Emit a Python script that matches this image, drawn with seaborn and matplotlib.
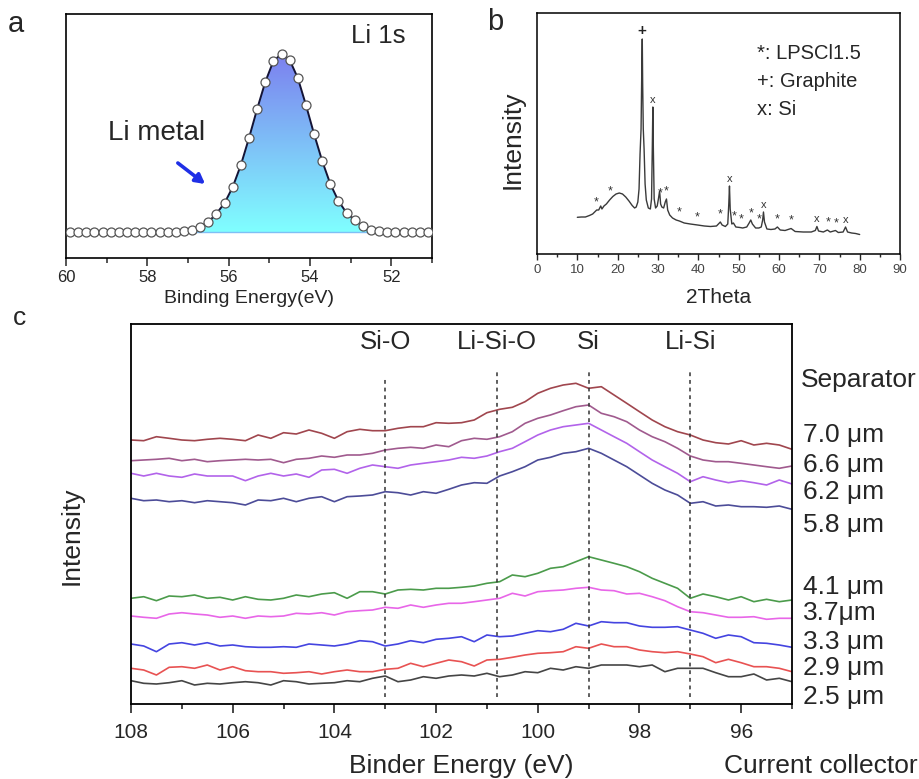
import numpy as np
import pandas as pd
import matplotlib
matplotlib.use("Agg")
import matplotlib.pyplot as plt
from matplotlib.colors import LinearSegmentedColormap
from matplotlib.ticker import MultipleLocator
from matplotlib.transforms import blended_transform_factory
import seaborn as sns

# ---------------- data ----------------
# (a) Li 1s XPS spectrum
li1s_energy = [59.9, 59.7, 59.5, 59.3, 59.1, 58.9, 58.7, 58.5, 58.3, 58.1,
               57.9, 57.7, 57.5, 57.3, 57.1, 56.9, 56.7, 56.5, 56.3, 56.1,
               55.9, 55.7, 55.5, 55.3, 55.1, 54.9, 54.7, 54.5, 54.3, 54.1,
               53.9, 53.7, 53.5, 53.3, 53.1, 52.9, 52.7, 52.5, 52.3, 52.1,
               51.9, 51.7, 51.5, 51.3, 51.1]
li1s_counts = [0, 0, 0, 0.5, 0, 0, 0, 0, 0, 0.5,
               0, 0, 0, 0.3, 1.2, 2.4, 5, 10, 18.4, 29,
               45, 67, 94, 123, 150, 171, 178, 172, 154, 127,
               98, 71, 48, 31, 19, 12, 6, 2.4, 0.8, 0.3,
               0, 0, 0, 0, 0]

# (b) XRD pattern
two_theta = [10.0, 11.0, 12.0, 13.0, 13.8, 14.3, 14.8, 15.3, 15.8, 16.1,
             16.6, 17.2, 18.0, 18.8, 19.6, 20.4, 21.2, 22.0, 22.8, 23.6,
             24.2, 24.6, 25.0, 25.3, 25.55, 25.8, 26.0, 26.1, 26.2, 26.35,
             26.55, 26.8, 27.1, 27.6, 28.1, 28.4, 28.6, 28.72, 28.85, 29.05,
             29.4, 29.8, 30.1, 30.4, 30.65, 30.95, 31.4, 31.8, 32.1, 32.4,
             32.9, 33.6, 34.5, 35.3, 36.5, 38.0, 39.8, 41.5, 43.0, 44.5,
             45.1, 45.45, 45.9, 46.7, 47.3, 47.55, 47.72, 47.9, 48.3, 48.7,
             49.3, 50.3, 51.0, 52.0, 52.6, 53.0, 53.4, 54.2, 55.0, 55.6,
             55.95, 56.15, 56.4, 57.0, 58.0, 59.0, 59.6, 60.3, 61.5, 63.0,
             64.0, 66.0, 68.0, 69.0, 69.4, 69.8, 71.0, 72.0, 72.7, 74.0,
             74.7, 75.9, 76.5, 77.0, 78.0, 79.0, 80.0]
xrd_counts = [36.7, 37, 37, 38.5, 40, 42, 44, 44, 48, 45,
              48, 50, 54, 57.5, 60, 61, 60, 57, 53, 48.5,
              46, 47, 52, 65, 100, 125, 190, 215, 170, 125,
              105, 70, 54, 46, 45, 55, 110, 147, 105, 55,
              46, 48, 55, 63, 50, 47, 46, 52, 55, 44,
              39, 36, 34, 33, 31, 30, 29, 28, 27.5, 28,
              30.5, 32, 29, 27.5, 30, 50, 68, 45, 30, 31,
              27, 26.5, 26, 27, 31, 34, 30, 26, 26, 27,
              34, 42, 32, 25, 24.5, 25, 27, 24, 23.5, 25.5,
              22.5, 22, 22, 23.5, 27.5, 23, 22, 24, 22, 23.5,
              21.5, 22, 27, 22, 21, 20.5, 19.5]
lpscl_peaks = [14.7, 18.2, 30.6, 32.1, 35.2, 39.8, 45.4, 48.9, 50.7, 53.1,
               55.2, 59.6, 62.9, 72.1, 74.2]
graphite_peaks = [26.1]
si_peaks = [28.72, 47.72, 56.15, 69.4, 76.5]

# (c) Si 2p depth profile, stacked spectra
si2p_energy = np.round(np.arange(108.0, 94.99, -0.25), 2)
depth_labels = ["7.0 μm", "6.6 μm", "6.2 μm", "5.8 μm",
                "4.1 μm", "3.7μm", "3.3 μm", "2.9 μm", "2.5 μm"]
spec_7_0 = [264, 263.3, 267.3, 265.7, 264, 263.3, 264.7, 265.7, 264.7, 263.3,
            269, 265.7, 271.3, 270, 274, 270.7, 265.7, 272.3, 274.7, 273.3,
            273.3, 275.7, 277.3, 277.3, 281.3, 280.7, 281.3, 284, 291.3, 294.7,
            296.7, 302.3, 310.7, 315.7, 319, 320.7, 315.7, 317.3, 309, 300.7,
            292.3, 284, 277.3, 272.3, 269, 264, 261.3, 260, 263.3, 259,
            260.7, 259, 254.7]
spec_6_6 = [243.3, 244, 244.7, 245.7, 243.3, 244.7, 242.3, 243.3, 244, 244.7,
            244, 244.7, 241.3, 244.7, 245.7, 248, 246.7, 249, 249, 250.7,
            254, 255.7, 256.7, 255.7, 259, 257.3, 263.3, 265.7, 264.7, 267.3,
            272.3, 280.7, 285.7, 289, 293.3, 297.3, 299, 290.7, 287.3, 282.3,
            274, 267.3, 262.3, 255.7, 248, 244, 242.3, 242.3, 240.7, 239,
            237.3, 235.7, 238]
spec_6_2 = [230.7, 228, 230.7, 228, 226.7, 230, 228, 228, 228, 223.3,
            228, 230.7, 228, 230, 226.7, 234, 234.7, 230.7, 235.7, 239,
            237.3, 235.7, 239, 240.7, 242.3, 244, 246.7, 245.7, 248, 252.3,
            255.7, 262.3, 269, 274, 277.3, 279, 280.7, 274, 267.3, 260.7,
            252.3, 244, 237.3, 230.7, 222.3, 227.3, 224, 221.3, 223.3, 221.3,
            219, 224, 220]
spec_5_8 = [205.7, 203.3, 204, 202.3, 203.3, 201.3, 203.3, 202.3, 201.3, 199,
            204, 203.3, 205.7, 202.3, 205.7, 207.3, 202.3, 207.3, 208, 209,
            212.3, 211.3, 209, 212.3, 210.7, 214.7, 219, 221.3, 220.7, 228,
            232.3, 237.3, 244, 246.7, 250.7, 252.3, 255.7, 250.7, 244, 237.3,
            229, 220.7, 214, 209, 200.7, 202.3, 198, 199, 197.3, 197.3,
            196.7, 198, 194.7]
spec_4_1 = [105.7, 107.3, 103.3, 108, 107.3, 109, 105.7, 106.7, 104, 107.3,
            104.7, 104, 105.7, 109, 107.3, 110, 111.3, 105.7, 112.3, 112.3,
            110, 114, 114.7, 114, 115.7, 115.7, 116.7, 118, 120.7, 122.3,
            129, 127.3, 130.7, 135.7, 137.3, 142.3, 147.3, 144, 140.7, 137.3,
            132.3, 125.7, 120.7, 115.7, 105.7, 110, 107.3, 104, 107.3, 102.3,
            104.7, 102.3, 104]
spec_3_7 = [88, 86.7, 85.7, 90, 91.3, 90, 89, 86.7, 88, 85.7,
            88, 87.3, 88, 90.7, 90, 91.3, 89, 92.3, 93.3, 94,
            96.7, 95.7, 99, 96.7, 99, 100.7, 100.7, 102.3, 104, 105.7,
            110.7, 108, 112.3, 113.3, 114, 115.7, 116.7, 114, 113.3, 110,
            110.7, 107.3, 103.3, 97.3, 92.3, 91.3, 89, 86.7, 86.7, 87.3,
            84.7, 85.7, 85.7]
spec_3_3 = [60, 58, 52.3, 60, 61.3, 59, 61.3, 58, 59, 57.3,
            56.7, 56.7, 57.3, 56.7, 60, 59, 58, 60, 63.3, 62.3,
            58, 60, 63.3, 61.3, 64.7, 65.7, 67.3, 62.3, 69, 67.3,
            68, 70.7, 73.3, 72.3, 74.7, 80.7, 78, 82.3, 81.3, 81.3,
            78, 76.7, 76.7, 77.3, 74, 70.7, 65.7, 69, 67.3, 61.3,
            60.7, 59, 56.7]
spec_2_9 = [35.7, 34, 29, 36.7, 37.3, 35.7, 39, 34, 37.3, 33.3,
            32.3, 32.3, 30.7, 31.3, 32.3, 30, 32.3, 34, 32.3, 32.3,
            34.7, 35.7, 40.7, 37.3, 40.7, 44, 42.3, 38, 44, 44.7,
            46.7, 49, 50.7, 51.3, 52.3, 57.3, 55.7, 60, 57.3, 57.3,
            54, 52.3, 51.3, 52.3, 50, 47.3, 41.3, 44.7, 41.3, 37.3,
            37.3, 35.7, 32.3]
spec_2_5 = [23.3, 20.7, 20, 21.3, 23.3, 19, 20.7, 20, 21.3, 22.3,
            21.3, 19, 23.3, 22.3, 20, 20.7, 21.3, 23.3, 22.3, 25.7,
            28, 22.3, 24, 27.3, 25.7, 28, 29, 28, 30.7, 27.3,
            29, 32.3, 31.3, 35.7, 34, 37.3, 35.7, 39, 39, 39,
            37.3, 39, 32.3, 35.7, 35.7, 35.7, 31.3, 27.3, 27.3, 30,
            24, 25.7, 22.3]
spectra = [spec_7_0, spec_6_6, spec_6_2, spec_5_8, spec_4_1,
           spec_3_7, spec_3_3, spec_2_9, spec_2_5]
depth_colors = ["#a0464e", "#a05a8e", "#b263ea", "#4c4c98", "#4b9b4b",
                "#e866e8", "#4444e0", "#e85252", "#454545"]
peak_names = ["Si-O", "Li-Si-O", "Si", "Li-Si"]
peak_energy = [103.0, 100.8, 99.0, 97.0]

# ---------------- style ----------------
sns.set_style("ticks")
plt.rcParams["font.family"] = ["Liberation Sans", "DejaVu Sans"]
plt.rcParams["axes.edgecolor"] = "black"

W, H = 920, 779
fig = plt.figure(figsize=(W / 100, H / 100), dpi=100)


def px_axes(left, top, right, bottom):
    return fig.add_axes([left / W, 1 - bottom / H, (right - left) / W, (bottom - top) / H])


ax_a = px_axes(66, 14, 432, 258)
ax_b = px_axes(537, 13, 900, 254)
ax_c = px_axes(131, 324, 792, 704)

# ---------------- panel a ----------------
df_a = pd.DataFrame({"energy": li1s_energy, "counts": li1s_counts})
e_a = np.array(li1s_energy)
c_a = np.array(li1s_counts)
peak_mask = c_a >= 2
fill = ax_a.fill_between(e_a[peak_mask], 0, c_a[peak_mask], facecolor="none", edgecolor="none")
grad_cmap = LinearSegmentedColormap.from_list("li1s", ["#80ffff", "#7c80ef"])
grad = np.linspace(0, 1, 256).reshape(-1, 1)
im = ax_a.imshow(grad, extent=(e_a[peak_mask].max(), e_a[peak_mask].min(), 0, c_a.max()),
                 origin="lower", cmap=grad_cmap, aspect="auto", zorder=1, interpolation="bilinear")
im.set_clip_path(fill.get_paths()[0], transform=ax_a.transData)
ax_a.plot(e_a[peak_mask][[0, -1]], [0, 0], color="#7fbff5", lw=1.0, zorder=1.5)
sns.lineplot(data=df_a, x="energy", y="counts", color="#141436", lw=1.4, ax=ax_a, zorder=2)
sns.scatterplot(data=df_a, x="energy", y="counts", s=42, color="white", edgecolor="#555555",
                linewidth=0.9, ax=ax_a, zorder=3)
ax_a.set_xlim(60, 51)
ax_a.set_ylim(-26, 218)
ax_a.set_yticks([])
ax_a.set_ylabel("")
ax_a.xaxis.set_major_locator(MultipleLocator(2))
ax_a.xaxis.set_minor_locator(MultipleLocator(1))
ax_a.tick_params(axis="x", which="major", length=6, width=1.1, labelsize=12, pad=3)
ax_a.tick_params(axis="x", which="minor", length=3.5, width=1.1)
ax_a.set_xlabel("Binding Energy(eV)", fontsize=14, labelpad=3)
for s in ax_a.spines.values():
    s.set_linewidth(1.2)
ax_a.annotate("", xy=(56.58, 48), xytext=(57.25, 69),
              arrowprops=dict(arrowstyle="-|>,head_length=0.55,head_width=0.3",
                              color="#1f2fe6", lw=2.6, shrinkA=0, shrinkB=0))
ax_a.text(57.77, 99, "Li metal", fontsize=20, ha="center", va="center")
ax_a.text(52.33, 196, "Li 1s", fontsize=18.5, ha="center", va="center")

# ---------------- panel b ----------------
df_b = pd.DataFrame({"two_theta": two_theta, "counts": xrd_counts})
sns.lineplot(data=df_b, x="two_theta", y="counts", color="#3a3a3a", lw=1.0, ax=ax_b)
ax_b.set_xlim(0, 90)
ax_b.set_ylim(0, 241)
ax_b.set_yticks([])
ax_b.set_ylabel("")
ax_b.xaxis.set_major_locator(MultipleLocator(10))
ax_b.xaxis.set_minor_locator(MultipleLocator(5))
ax_b.tick_params(axis="x", which="major", length=4.5, width=1.0, labelsize=9.5,
                 labelcolor="#444444", pad=3)
ax_b.tick_params(axis="x", which="minor", length=2.5, width=1.0)
ax_b.set_xlabel("2Theta", fontsize=15, labelpad=8)
for s in ax_b.spines.values():
    s.set_linewidth(1.1)
for pos in lpscl_peaks:
    ax_b.text(pos, np.interp(pos, two_theta, xrd_counts) + 2, "*", fontsize=9,
              ha="center", va="bottom", color="#333333")
for pos in graphite_peaks:
    ax_b.text(pos, np.interp(pos, two_theta, xrd_counts) + 1, "+", fontsize=11,
              ha="center", va="bottom", color="#222222", fontweight="bold")
for pos in si_peaks:
    ax_b.text(pos, np.interp(pos, two_theta, xrd_counts) + 2, "x", fontsize=8,
              ha="center", va="bottom", color="#333333")
for i, txt in enumerate(["*: LPSCl1.5", "+: Graphite", "x: Si"]):
    ax_b.text(0.605, 0.834 - 0.118 * i, txt, transform=ax_b.transAxes,
              fontsize=14.5, ha="left", va="center")

# ---------------- panel c ----------------
rows = []
for lab, vals in zip(depth_labels, spectra):
    for e, v in zip(si2p_energy, vals):
        rows.append((e, v, lab))
df_c = pd.DataFrame(rows, columns=["energy", "intensity", "depth"])
sns.lineplot(data=df_c, x="energy", y="intensity", hue="depth", hue_order=depth_labels,
             palette=dict(zip(depth_labels, depth_colors)), lw=1.2, legend=False,
             ax=ax_c, estimator=None, sort=False)
ax_c.set_xlim(108, 95)
ax_c.set_ylim(0, 380)
ax_c.set_yticks([])
ax_c.set_ylabel("")
ax_c.set_xlabel("")
ax_c.xaxis.set_major_locator(MultipleLocator(2))
ax_c.xaxis.set_minor_locator(MultipleLocator(1))
ax_c.tick_params(axis="x", which="major", length=6.5, width=1.2, labelsize=15, pad=7)
ax_c.tick_params(axis="x", which="minor", length=3.6, width=1.2)
for s in ax_c.spines.values():
    s.set_linewidth(1.3)

line_tops = [0.858, 0.874, 0.882, 0.876]
for name, e, top in zip(peak_names, peak_energy, line_tops):
    ax_c.axvline(e, ymin=0.018, ymax=top, color="#333333", lw=1.1, ls=(0, (2.5, 2.5)))
    ax_c.text(e, 362, name, fontsize=18.5, ha="center", va="center")

label_y = [269, 239, 212, 179, 117, 91, 62, 36, 7]
tr = blended_transform_factory(ax_c.transAxes, ax_c.transData)
ax_c.text(1.0136, 324, "Separator", transform=tr, fontsize=19, ha="left", va="center")
for lab, y in zip(depth_labels, label_y):
    ax_c.text(1.016, y, lab, transform=tr, fontsize=19, ha="left", va="center")

fig.text(461 / W, 1 - 766 / H, "Binder Energy (eV)", fontsize=19, ha="center", va="center")
fig.text(821 / W, 1 - 766 / H, "Current collector", fontsize=19, ha="center", va="center")
fig.text(72 / W, 1 - 536 / H, "Intensity", fontsize=19, rotation=90, ha="center", va="center")
fig.text(513 / W, 1 - 140 / H, "Intensity", fontsize=19, rotation=90, ha="center", va="center")

# panel letters
fig.text(16 / W, 1 - 24 / H, "a", fontsize=21, ha="center", va="center")
fig.text(495 / W, 1 - 22 / H, "b", fontsize=21, ha="center", va="center")
fig.text(20 / W, 1 - 318 / H, "c", fontsize=19, ha="center", va="center")

fig.savefig("out.png", dpi=100)
